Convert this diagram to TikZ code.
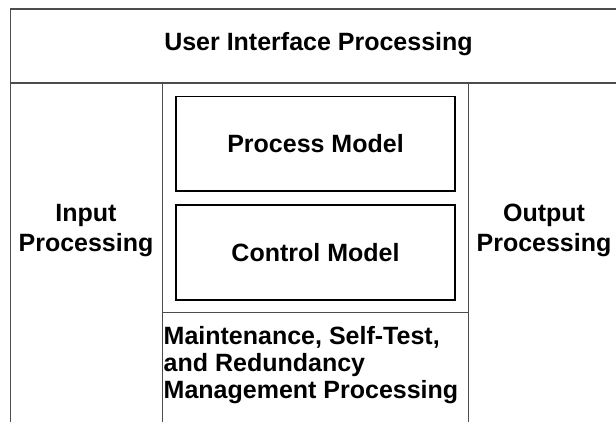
\documentclass[tikz,border=0pt]{standalone}
\usepackage{fontspec}
\setmainfont{Liberation Sans}
\begin{document}
\begin{tikzpicture}[x=1pt,y=-1pt,
  frame/.style={draw=black!70, line width=1.4pt},
  modelbox/.style={draw=black, line width=1.8pt, minimum width=279pt, minimum height=94.5pt, inner sep=0pt},
  lbl/.style={font=\fontsize{25}{30}\selectfont\bfseries, align=center, inner sep=0pt},
  lblleft/.style={font=\fontsize{25}{27}\selectfont\bfseries, align=left, inner sep=0pt, anchor=north west}]
\useasboundingbox (0,0) rectangle (616,421);
\fill[white] (0,0) rectangle (616,421);
% outer frame lines
\coordinate (tl) at (10.5,9);
\coordinate (tr) at (640,9);
\coordinate (bl) at (10.5,440);
\coordinate (ml) at (10.5,83);
\coordinate (mr) at (640,83);
\coordinate (c1t) at (162.5,83);
\coordinate (c1b) at (162.5,440);
\coordinate (c2t) at (468.5,83);
\coordinate (c2b) at (468.5,440);
\coordinate (m1) at (162.5,312.5);
\coordinate (m2) at (468.5,312.5);
\draw[frame] (tr) -- (tl) -- (bl);
\draw[frame] (ml) -- (mr);
\draw[frame] (c1t) -- (c1b);
\draw[frame] (c2t) -- (c2b);
\draw[frame] (m1) -- (m2);
% texts
\node[lbl] (ui) at (318.5,44) {User Interface Processing};
\node[lbl] (inp) at (86,230.6) {Input\\Processing};
\node[lbl] (outp) at (544,230.6) {Output\\Processing};
\node[modelbox, lbl] (pm) at (315.5,143.75) {Process Model};
\node[modelbox, lbl] (cm) at (315.5,252.5) {Control Model};
\node[lblleft] (mnt) at (163.5,326) {Maintenance, Self-Test,\\and Redundancy\\Management Processing};
\end{tikzpicture}
\end{document}
